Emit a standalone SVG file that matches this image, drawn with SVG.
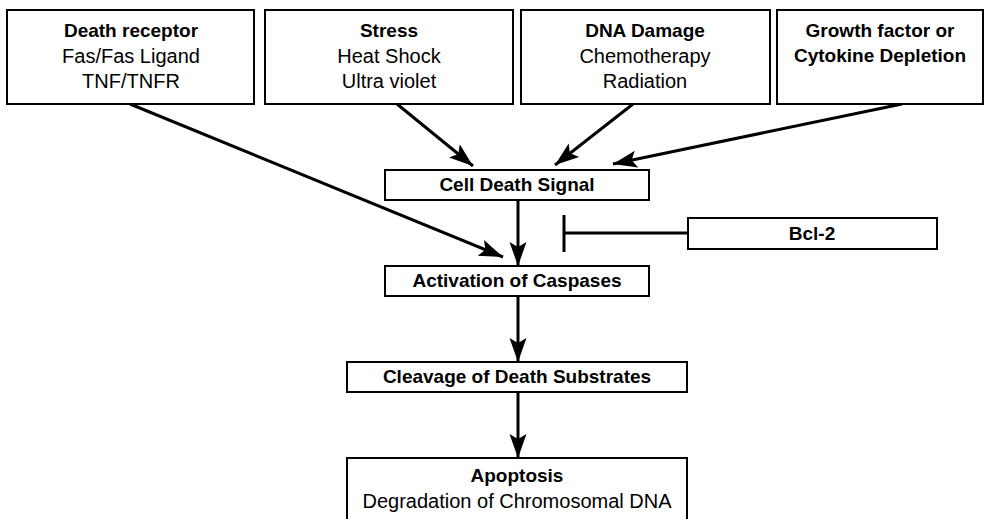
<svg xmlns="http://www.w3.org/2000/svg" width="990" height="519" viewBox="0 0 990 519">
<defs>
<style>
.box{fill:#fff;stroke:#000;stroke-width:2}
.t{font-family:"Liberation Sans",Arial,sans-serif;font-size:20px;text-anchor:middle;fill:#000}
.b{font-weight:bold;font-size:19px}
.c{stroke:#000;stroke-width:3;fill:none}
</style>
<marker id="ah" markerUnits="userSpaceOnUse" markerWidth="26" markerHeight="20" viewBox="0 0 26 20" refX="24" refY="10" orient="auto">
<path d="M0,1.5 L24,10 L0,18.5 L5,10 Z" fill="#000"/>
</marker>
</defs>
<rect width="990" height="519" fill="#fff"/>
<g id="connectors">
<line class="c" x1="130" y1="104" x2="503" y2="257" marker-end="url(#ah)"/>
<line class="c" x1="397" y1="104" x2="473" y2="166" marker-end="url(#ah)"/>
<line class="c" x1="633" y1="104" x2="555" y2="165" marker-end="url(#ah)"/>
<line class="c" x1="902" y1="104" x2="613" y2="164" marker-end="url(#ah)"/>
<line class="c" x1="518" y1="200" x2="518" y2="266" marker-end="url(#ah)"/>
<line class="c" x1="518" y1="296" x2="518" y2="362" marker-end="url(#ah)"/>
<line class="c" x1="518" y1="392" x2="518" y2="458" marker-end="url(#ah)"/>
<line class="c" x1="688" y1="233" x2="564" y2="233"/>
<line class="c" x1="564" y1="215" x2="564" y2="252"/>
</g>
<g id="death-receptor">
<rect class="box" x="7" y="10" width="247" height="94"/>
<text class="t b" x="131" y="37">Death receptor</text>
<text class="t" x="131" y="63">Fas/Fas Ligand</text>
<text class="t" x="131" y="88">TNF/TNFR</text>
</g>
<g id="stress">
<rect class="box" x="265" y="10" width="248" height="94"/>
<text class="t b" x="389" y="37">Stress</text>
<text class="t" x="389" y="63">Heat Shock</text>
<text class="t" x="389" y="88">Ultra violet</text>
</g>
<g id="dna-damage">
<rect class="box" x="521" y="10" width="249" height="94"/>
<text class="t b" x="645" y="37">DNA Damage</text>
<text class="t" x="645" y="63">Chemotherapy</text>
<text class="t" x="645" y="88">Radiation</text>
</g>
<g id="growth-factor">
<rect class="box" x="777" y="10" width="206" height="94"/>
<text class="t b" x="880" y="37">Growth factor or</text>
<text class="t b" x="880" y="62">Cytokine Depletion</text>
</g>
<g id="cell-death-signal">
<rect class="box" x="385" y="170" width="264" height="30"/>
<text class="t b" x="517" y="191">Cell Death Signal</text>
</g>
<g id="bcl2">
<rect class="box" x="688" y="218" width="249" height="31"/>
<text class="t b" x="812" y="240">Bcl-2</text>
</g>
<g id="activation">
<rect class="box" x="385" y="266" width="264" height="30"/>
<text class="t b" x="517" y="287">Activation of Caspases</text>
</g>
<g id="cleavage">
<rect class="box" x="347" y="362" width="340" height="30"/>
<text class="t b" x="517" y="383">Cleavage of Death Substrates</text>
</g>
<g id="apoptosis">
<rect class="box" x="347" y="458" width="340" height="80"/>
<text class="t b" x="517" y="482">Apoptosis</text>
<text class="t" x="517" y="508">Degradation of Chromosomal DNA</text>
</g>
</svg>
